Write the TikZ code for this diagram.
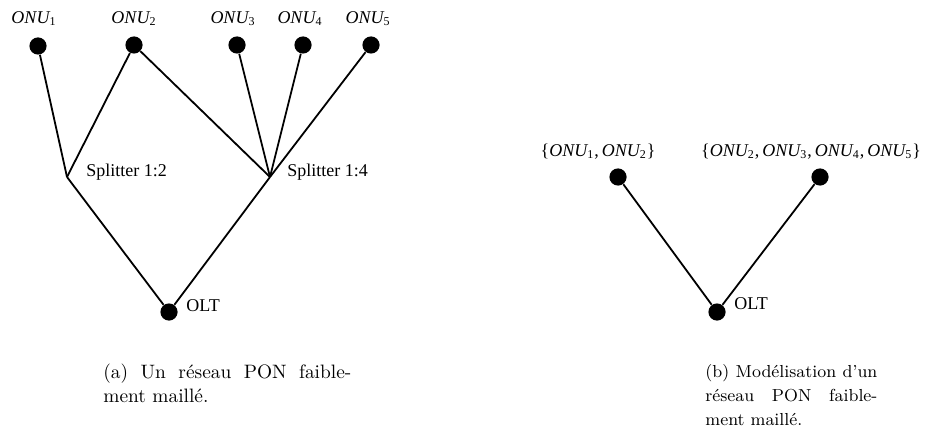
\documentclass[tikz,border=0pt]{standalone}
\usepackage{fontspec}
\usepackage{tikz}
\usetikzlibrary{positioning}
\newfontfamily\timesfont{Liberation Serif}
\setlength{\parindent}{0pt}
\newcommand{\onu}[1]{{\itshape ONU}\textsubscript{#1}}
\newcommand{\fullline}[2]{\hbox to #1{#2}}
\tikzset{
  dot/.style={circle,fill=black,draw=none,minimum size=8.6pt,inner sep=0pt},
  fiber/.style={line width=0.9pt,draw=black},
  lbl/.style={font=\timesfont\fontsize{9}{11}\selectfont,inner sep=1pt},
  capt/.style={align=left,inner sep=0pt,anchor=north west}
}
\begin{document}
\begin{tikzpicture}[x=0.5pt,y=-0.5pt]
    \path[use as bounding box] (0,0) rectangle (925,444);

    % (a) le reseau
    \node[dot] (onu1) at (38,46) {};
    \node[dot] (onu2) at (134,45) {};
    \node[dot] (onu3) at (237,45) {};
    \node[dot] (onu4) at (303,45) {};
    \node[dot] (onu5) at (371,45) {};
    \node[lbl] (lonu1) at (34,19) {\onu{1}};
    \node[lbl] (lonu2) at (134,19) {\onu{2}};
    \node[lbl] (lonu3) at (233,19) {\onu{3}};
    \node[lbl] (lonu4) at (300,19) {\onu{4}};
    \node[lbl] (lonu5) at (368,19) {\onu{5}};

    \coordinate (split2) at (67,177);
    \coordinate (split4) at (270,177);
    \node[lbl,anchor=west] (lsplit2) at (84,172) {Splitter 1:2};
    \node[lbl,anchor=west] (lsplit4) at (285,172) {Splitter 1:4};

    \node[dot] (olt) at (169,312) {};
    \node[lbl,anchor=west] (lolt) at (184,306) {OLT};

    \draw[fiber] (onu1) -- (split2);
    \draw[fiber] (onu2) -- (split2);
    \draw[fiber] (onu2) -- (split4);
    \draw[fiber] (onu3) -- (split4);
    \draw[fiber] (onu4) -- (split4);
    \draw[fiber] (onu5) -- (split4);
    \draw[fiber] (split2) -- (olt);
    \draw[fiber] (split4) -- (olt);

    % (b) la modelisation
    \node[dot] (grp1) at (618,177) {};
    \node[dot] (grp2) at (820,177) {};
    \node[lbl] (lgrp1) at (598,152) {\{\onu{1},\,\onu{2}\}};
    \node[lbl] (lgrp2) at (811,152) {\{\onu{2},\,\onu{3},\,\onu{4},\,\onu{5}\}};
    \node[dot] (olt2) at (717,312) {};
    \node[lbl,anchor=west] (lolt2) at (732,304) {OLT};
    \draw[fiber] (grp1) -- (olt2);
    \draw[fiber] (grp2) -- (olt2);

    % legendes
    \node[capt,font=\fontsize{9.7}{12}\selectfont] (capa) at (103,364)
      {\fullline{124pt}{(a) Un réseau PON faible-}\\ment maillé.};
    \node[capt,font=\fontsize{8.7}{12}\selectfont] (capb) at (705,364)
      {\fullline{86pt}{(b) Modélisation d’un}\\
       \fullline{86pt}{réseau PON faible-}\\ment maillé.};
  \end{tikzpicture}
\end{document}
